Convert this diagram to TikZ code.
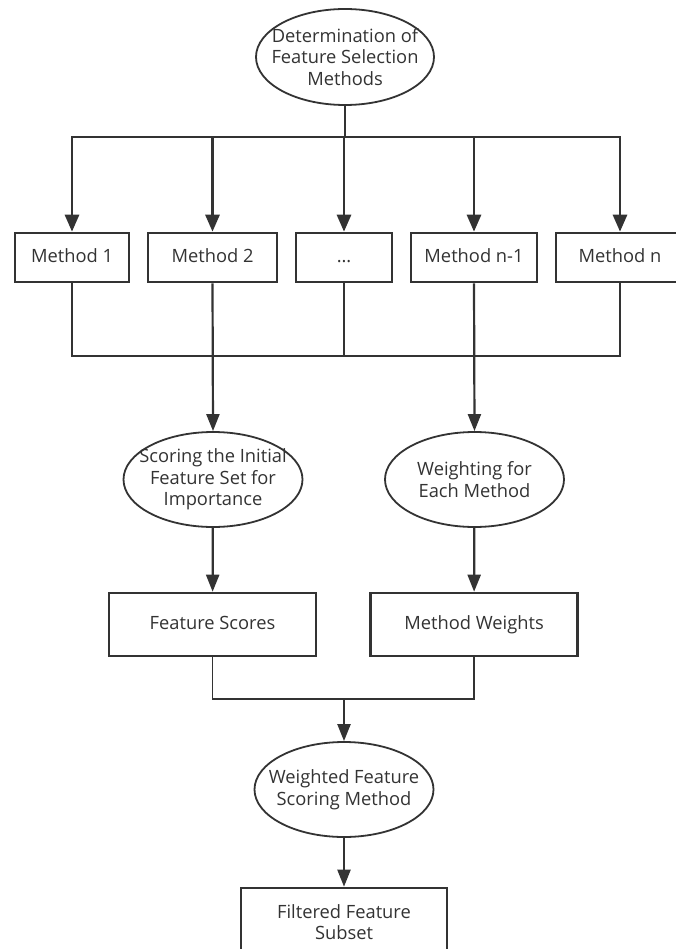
\documentclass[tikz,border=0pt]{standalone}
\usepackage{fontspec}
\setmainfont{Open Sans}
\usepackage{tikz}
\usetikzlibrary{calc}
\usetikzlibrary{shapes}
\usetikzlibrary{arrows.meta}

\definecolor{ink}{HTML}{333333}

\tikzset{
    every node/.style={text=ink, font=\fontsize{18.3pt}{21.5pt}\selectfont, align=center, inner sep=0pt},
    stagebox/.style={draw=ink, line width=2.6pt, rectangle},
    oneline/.style={text height=13.5pt, text depth=4pt},
    stageoval/.style={draw=ink, line width=1.8pt, ellipse, inner xsep=-22pt, inner ysep=-12pt, minimum width=179pt, minimum height=95pt},
    flow/.style={draw=ink, line width=2.8pt, -{Triangle[length=17pt,width=14pt]}},
    flowthin/.style={draw=ink, line width=2.2pt, -{Triangle[length=17pt,width=13pt]}},
    gather/.style={draw=ink, line width=1.8pt},
}

\begin{document}
\begin{tikzpicture}[x=1pt, y=-1pt]
        \useasboundingbox (0,0) rectangle (675,949);
        \fill[white] (0,0) rectangle (675,949);

        \node[stageoval, minimum width=178pt, minimum height=96pt] (det) at (345,57) {Determination of\\Feature Selection\\Methods};

        % method boxes: name/x/width/text
        \foreach \name/\x/\w/\txt in {m1/72/114/Method 1, m2/212.5/129/Method 2, m3/344/96/\dots, m4/474/126/Method n-1, m5/620/128/Method n} {
            \node[stagebox, oneline, minimum width=\w pt, minimum height=49pt] (\name) at (\x,257.5) {\txt};}

        \coordinate (split) at (345,137);
        \draw[line width=2.8pt, ink] (det.south) -- (split);
        \foreach \name in {m1, m2, m3, m4, m5} {
            \draw[flow] (split) -| (\name.north);}

        \node[stageoval] (score) at (213,479.5) {Scoring the Initial\\Feature Set for\\Importance};
        \node[stageoval] (weight) at (474.5,479.5) {Weighting for\\Each Method};

        \coordinate (mbar) at (344,356);
        \draw[gather] (m1.south) |- (mbar) -| (m5.south);
        \draw[gather] (m3.south) -- (mbar);
        \draw[flowthin] (m2.south) -- (score.north);
        \draw[flowthin] (m4.south) -- (weight.north);

        \node[stagebox, oneline, minimum width=207pt, minimum height=63pt] (fscore) at (212.5,624.5) {Feature Scores};
        \node[stagebox, oneline, minimum width=207pt, minimum height=63pt] (mweight) at (474,624.5) {Method Weights};
        \draw[flowthin] (score) -- (fscore);
        \draw[flowthin] (weight) -- (mweight);

        \node[stageoval] (wfs) at (344,789.5) {Weighted Feature\\Scoring Method};
        \coordinate (wbar) at (344,699);
        \draw[gather] (fscore.south) |- (wbar) -| (mweight.south);
        \draw[flowthin] (wbar) -- (wfs.north);

        \node[stagebox, minimum width=206pt, minimum height=68pt] (subset) at (344,922) {Filtered Feature\\Subset};
        \draw[flowthin] (wfs) -- (subset);
        \end{tikzpicture}
\end{document}
